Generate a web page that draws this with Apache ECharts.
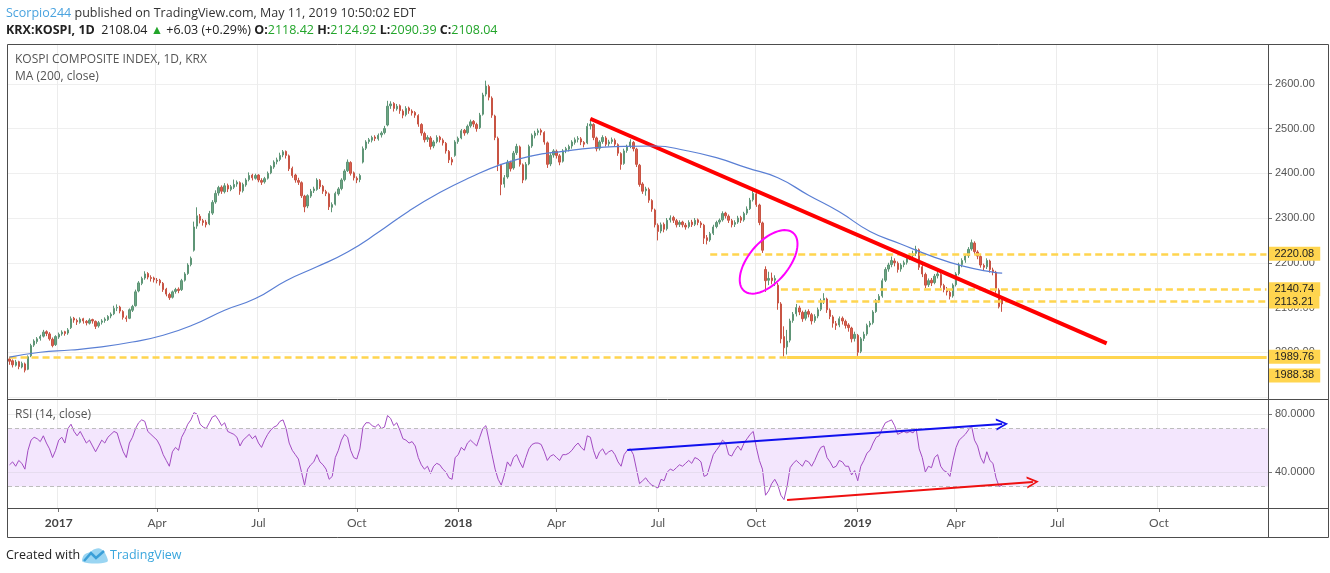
<!DOCTYPE html>
<html><head><meta charset="utf-8">
<script src="https://cdn.jsdelivr.net/npm/echarts@6/dist/echarts.min.js"></script>
<style>html,body{margin:0;padding:0;background:#fff}#c{width:1330px;height:573px}</style>
</head><body><div id="c"></div>
<script>
// ---- data: one candle = 2 trading days, [open, close, low, high] ----
const candles = [
[1985,1980,1972,1990],[1981,1972,1966,1984],[1971,1978,1968,1983],[1979,1968,1962,1981],[1967,1975,1964,1979],
[1974,1960,1955,1977],[1962,1990,1960,1993],[1992,2015,1989,2019],[2016,2025,2012,2029],[2024,2030,2019,2034],
[2031,2035,2026,2039],[2036,2045,2033,2050],[2046,2042,2036,2049],[2041,2030,2026,2045],[2029,2015,2011,2033],
[2017,2035,2014,2038],[2034,2040,2030,2044],[2041,2045,2037,2049],[2046,2042,2037,2048],[2043,2050,2039,2054],
[2055,2075,2052,2080],[2076,2072,2066,2079],[2071,2068,2061,2075],[2067,2074,2064,2078],[2075,2070,2064,2077],
[2069,2066,2060,2072],[2065,2072,2062,2076],[2073,2070,2064,2075],[2069,2058,2052,2071],[2059,2066,2055,2070],
[2067,2070,2062,2074],[2071,2074,2066,2078],[2073,2080,2070,2083],[2081,2085,2076,2089],[2086,2098,2083,2104],
[2099,2100,2092,2107],[2101,2092,2087,2104],[2091,2078,2073,2094],[2077,2075,2068,2082],[2076,2095,2074,2098],
[2094,2102,2090,2106],[2104,2135,2102,2140],[2137,2155,2134,2159],[2154,2165,2150,2169],[2166,2175,2162,2181],
[2176,2168,2163,2179],[2167,2165,2158,2172],[2166,2162,2156,2169],[2161,2160,2154,2166],[2161,2155,2149,2164],
[2154,2140,2135,2157],[2141,2130,2125,2144],[2129,2122,2117,2133],[2123,2135,2120,2138],[2136,2140,2131,2144],
[2141,2138,2132,2145],[2140,2160,2137,2164],[2161,2175,2158,2179],[2176,2195,2173,2199],[2196,2210,2192,2214],
[2228,2280,2225,2292],[2282,2305,2276,2324],[2304,2295,2288,2309],[2294,2290,2283,2298],[2291,2285,2279,2296],
[2287,2310,2284,2316],[2311,2335,2307,2340],[2336,2355,2332,2362],[2356,2368,2350,2372],[2369,2360,2354,2373],
[2359,2372,2355,2378],[2373,2365,2358,2377],[2364,2370,2360,2374],[2369,2375,2365,2386],[2376,2380,2370,2384],
[2379,2360,2352,2382],[2361,2375,2357,2379],[2374,2385,2370,2389],[2386,2395,2382,2402],[2396,2390,2384,2399],
[2389,2395,2386,2399],[2396,2385,2380,2398],[2384,2380,2374,2389],[2381,2388,2377,2392],[2389,2400,2386,2404],
[2401,2415,2398,2418],[2414,2425,2410,2429],[2426,2430,2420,2435],[2431,2440,2427,2446],[2441,2448,2436,2452],
[2449,2440,2433,2451],[2439,2410,2405,2442],[2411,2395,2390,2415],[2396,2385,2379,2399],[2384,2380,2374,2390],
[2379,2350,2345,2382],[2349,2325,2313,2352],[2327,2350,2322,2353],[2349,2360,2345,2365],[2361,2365,2356,2370],
[2364,2385,2361,2389],[2384,2370,2365,2387],[2371,2360,2354,2374],[2359,2355,2349,2363],[2354,2325,2318,2357],
[2324,2330,2313,2335],[2331,2355,2328,2359],[2354,2365,2350,2369],[2366,2385,2362,2389],[2386,2405,2382,2409],
[2406,2425,2403,2431],[2424,2400,2395,2427],[2401,2390,2384,2404],[2389,2385,2378,2393],[2386,2395,2380,2399],
[2425,2455,2422,2460],[2456,2470,2452,2474],[2471,2475,2466,2479],[2474,2480,2469,2484],[2481,2478,2472,2485],
[2477,2485,2473,2489],[2486,2490,2480,2494],[2491,2500,2487,2506],[2508,2550,2505,2562],[2551,2555,2544,2561],
[2556,2545,2538,2559],[2544,2550,2540,2555],[2551,2540,2533,2554],[2539,2530,2523,2543],[2531,2545,2527,2550],
[2546,2540,2533,2549],[2539,2535,2529,2543],[2536,2530,2524,2539],[2529,2510,2504,2532],[2509,2490,2484,2512],
[2489,2475,2469,2493],[2476,2480,2470,2485],[2479,2460,2453,2483],[2461,2470,2456,2474],[2471,2480,2467,2485],
[2481,2475,2469,2484],[2474,2468,2462,2478],[2467,2450,2444,2470],[2449,2430,2423,2452],[2431,2425,2418,2436],
[2440,2470,2437,2474],[2471,2478,2466,2482],[2479,2495,2476,2499],[2496,2490,2484,2499],[2491,2505,2487,2509],
[2506,2515,2502,2520],[2516,2510,2503,2519],[2509,2500,2493,2513],[2502,2530,2499,2535],[2532,2575,2529,2580],
[2577,2595,2572,2607],[2594,2570,2563,2598],[2568,2530,2524,2572],[2528,2480,2474,2531],[2478,2420,2405,2482],
[2418,2375,2351,2421],[2376,2390,2368,2396],[2392,2425,2388,2430],[2424,2410,2404,2428],[2412,2445,2408,2450],
[2446,2460,2441,2466],[2459,2420,2415,2462],[2419,2385,2378,2422],[2387,2420,2384,2425],[2421,2460,2418,2464],
[2461,2485,2457,2489],[2484,2490,2478,2495],[2491,2495,2485,2500],[2496,2492,2485,2500],[2491,2470,2464,2494],
[2468,2420,2412,2471],[2421,2440,2416,2445],[2441,2450,2435,2454],[2449,2440,2433,2453],[2439,2425,2418,2443],
[2427,2450,2424,2454],[2451,2455,2445,2459],[2454,2460,2449,2464],[2461,2470,2455,2474],[2469,2475,2464,2480],
[2476,2478,2469,2483],[2477,2470,2463,2481],[2469,2465,2458,2472],[2468,2505,2465,2512],[2506,2510,2498,2522],
[2509,2480,2474,2512],[2479,2455,2449,2482],[2456,2470,2451,2474],[2471,2480,2466,2485],[2479,2465,2460,2483],
[2466,2470,2460,2475],[2471,2475,2466,2480],[2474,2465,2459,2478],[2464,2445,2439,2467],[2444,2420,2408,2447],
[2422,2450,2419,2455],[2451,2460,2446,2464],[2461,2470,2456,2476],[2469,2455,2449,2472],[2454,2420,2414,2457],
[2418,2375,2370,2421],[2376,2360,2354,2380],[2361,2365,2350,2370],[2364,2340,2334,2368],[2339,2320,2314,2342],
[2318,2285,2279,2321],[2284,2270,2250,2288],[2271,2285,2266,2290],[2286,2275,2268,2290],[2276,2295,2272,2300],
[2296,2300,2290,2306],[2301,2295,2289,2305],[2294,2285,2279,2298],[2286,2290,2280,2295],[2291,2285,2279,2294],
[2284,2280,2274,2289],[2281,2290,2277,2295],[2291,2285,2280,2296],[2286,2295,2282,2300],[2296,2290,2284,2299],
[2289,2285,2278,2293],[2284,2255,2242,2287],[2256,2250,2241,2262],[2251,2265,2247,2269],[2266,2280,2262,2285],
[2281,2290,2277,2294],[2291,2295,2286,2299],[2296,2310,2292,2315],[2311,2305,2299,2314],[2304,2295,2289,2308],
[2294,2285,2279,2298],[2286,2290,2280,2295],[2291,2300,2287,2305],[2301,2295,2289,2305],[2296,2310,2292,2314],
[2311,2320,2307,2326],[2321,2340,2318,2345],[2341,2355,2337,2362],[2354,2330,2325,2357],[2329,2290,2284,2332],
[2289,2228,2222,2292],[2185,2160,2135,2192],[2161,2165,2150,2180],[2166,2160,2152,2178],[2161,2165,2148,2172],
[2150,2110,2095,2155],[2108,2030,2020,2112],[2035,2010,1990,2058],[2012,2025,1995,2050],[2027,2070,2022,2075],
[2071,2085,2066,2090],[2086,2100,2080,2108],[2099,2090,2083,2104],[2089,2075,2068,2093],[2076,2090,2071,2095],
[2091,2085,2078,2096],[2084,2070,2062,2088],[2071,2080,2066,2085],[2081,2095,2076,2100],[2096,2115,2092,2120],
[2116,2120,2108,2132],[2119,2095,2088,2122],[2094,2080,2074,2098],[2079,2065,2055,2083],[2064,2060,2050,2070],
[2061,2075,2056,2080],[2076,2070,2062,2080],[2069,2060,2053,2073],[2061,2055,2046,2065],[2054,2030,2022,2057],
[2031,2040,2024,2046],[2038,2000,1992,2041],[2002,2030,1998,2034],[2031,2040,2025,2046],[2041,2060,2037,2064],
[2061,2065,2056,2070],[2066,2090,2062,2094],[2091,2115,2088,2119],[2116,2125,2110,2130],[2126,2160,2122,2165],
[2161,2185,2157,2190],[2186,2195,2180,2200],[2196,2205,2190,2214],[2204,2200,2192,2210],[2199,2185,2178,2203],
[2186,2195,2180,2199],[2196,2200,2190,2205],[2201,2210,2196,2215],[2211,2215,2206,2221],[2216,2220,2210,2227],
[2221,2230,2215,2238],[2229,2190,2184,2232],[2191,2175,2168,2195],[2174,2150,2143,2178],[2151,2160,2146,2165],
[2161,2155,2148,2166],[2156,2170,2152,2175],[2171,2175,2165,2181],[2174,2150,2144,2177],[2149,2140,2134,2153],
[2141,2135,2127,2146],[2134,2125,2118,2138],[2126,2150,2122,2154],[2151,2175,2147,2179],[2176,2195,2172,2200],
[2196,2205,2190,2210],[2206,2215,2200,2219],[2216,2230,2211,2235],[2231,2245,2227,2252],[2244,2225,2219,2248],
[2224,2215,2208,2228],[2214,2195,2189,2218],[2194,2190,2183,2198],[2191,2205,2186,2210],[2204,2185,2178,2207],
[2184,2180,2172,2189],[2179,2140,2133,2182],[2139,2102,2098,2143],[2118.42,2108.04,2090.39,2124.92]
];
const rsiValues = [
45,47,44,48,46,42,55,62,64,63, 61,65,60,56,50,55,62,64,60,70, 73,68,65,68,64,60,62,58,54,58,
62,60,64,66,68,67,60,54,50,60, 64,70,74,76,75,68,66,64,62,58, 52,48,44,54,57,55,64,68,73,76,
81,80,73,71,70,74,78,79,76,72, 74,68,67,66,64,58,62,64,66,63, 65,60,57,62,66,69,71,72,75,76,
70,60,55,52,49,40,31,42,45,47, 52,47,45,42,35,37,50,55,62,66, 64,55,50,49,56,71,74,74,72,71,
73,70,71,79,77,72,74,69,63,62, 60,61,58,50,45,42,44,39,44,46, 45,42,40,36,35,50,52,57,55,60,
62,60,58,64,70,72,62,52,42,35, 31,38,47,44,50,52,47,43,50,56, 59,60,60,59,54,48,51,52,50,48,
52,52,53,55,58,60,57,55,65,64, 55,49,54,56,52,54,55,52,47,44, 52,55,56,52,42,32,34,36,33,31,
30,29,35,34,40,42,41,43,45,44, 46,48,46,50,49,47,37,38,45,52, 55,58,62,60,52,51,55,58,55,60,
63,66,68,57,48,42,24,27,32,35, 31,24,21,30,43,46,48,46,44,48, 47,44,48,53,57,58,50,47,43,44,
48,47,44,44,38,41,34,44,48,53, 55,60,64,65,70,74,75,76,72,66, 67,68,67,68,67,70,56,50,40,44,
43,50,52,44,41,40,37,48,57,62, 64,66,69,72,62,58,50,46,54,48, 46,36,30,31
];
// MA(200) read at these candle indices
const maIndex  = [0,10,20,30,40,50,60,70,80,90,100,110,120,130,140,150,160,170,180,190,200,210,220,230,240,250,260,270,280,290,300,310,320,323];
const maValues = [1989,2000,2005,2012,2023,2038,2062,2094,2120,2160,2191,2224,2268,2316,2357,2391,2420,2439,2449,2457,2460,2461,2451,2435,2412,2390,2351,2314,2270,2242,2215,2193,2179,2177];
// horizontal levels (value, first candle index)
const levelValues = [2220.08, 2140.74, 2113.21, 1989.76, 1988.38];
const levelStart  = [228, 251, 256, 253, 0];
// drawn trend lines [candleIndex, value]
const priceTrend = [[189, 2522], [357, 2020]];
const rsiUpper   = [[201, 55.2], [323, 73.1]];
const rsiLower   = [[253, 20.7], [333, 33.1]];
const circleAt   = [247, 2202];
const priceTicks = [1900, 2600, 100];
const rsiTicks   = [40, 80];
const header = {
  author: 'Scorpio244', published: ' published on TradingView.com, May 11, 2019 10:50:02 EDT',
  sym: 'KRX:KOSPI, 1D', last: '2108.04', chg: '+6.03 (+0.29%)',
  o: '2118.42', h: '2124.92', l: '2090.39', c: '2108.04'
};

// ---- categories: pairs of business days ----
const N = 410;
const bdays = [];
let t = Date.UTC(2016, 10, 17);
while (bdays.length < 2 * N) { const dt = new Date(t); const wd = dt.getUTCDay(); if (wd > 0 && wd < 6) bdays.push(dt); t += 86400000; }
const categories = [];
for (let k = 0; k < N; k++) categories.push(bdays[2 * k].toISOString().slice(0, 10));
const MONTHS = ['Jan','Feb','Mar','Apr','May','Jun','Jul','Aug','Sep','Oct','Nov','Dec'];
const qLabel = {};
let pm = -1;
bdays.forEach((dt, j) => {
  const m = dt.getUTCMonth();
  if (m !== pm) {
    if (m % 3 === 0 && dt.getUTCFullYear() < 2020) qLabel[Math.floor(j / 2)] = m === 0 ? String(dt.getUTCFullYear()) : MONTHS[m];
    pm = m;
  }
});
const qInterval = (idx) => qLabel[idx] !== undefined;

const chart = echarts.init(document.getElementById('c'));
const F = 'Open Sans';
const AF = 'Lato';
const YEL = '#ffd54f';
const last = N - 1;
const CHEVRON = 'path://M0,10 L6,0 L12,10 L10,10 L6,3 L2,10 Z';

const levelLines = levelValues.map((v, k) => {
  const solid = (k === 3);
  return [
    { coord: [levelStart[k], v], lineStyle: { color: YEL, width: solid ? 3 : 2.5, type: solid ? 'solid' : [7, 4] },
      label: { show: true, position: 'end', distance: 2, formatter: v.toFixed(2), backgroundColor: YEL, color: '#222',
               fontFamily: 'Liberation Sans', fontSize: 11, padding: [2, 6, 1, 6], offset: k === 4 ? [0, 18] : [0, 0] } },
    { coord: [last, v] }
  ];
});

const option = {
  animation: false,
  grid: [
    { left: 8, right: 62, top: 44, height: 353 },
    { left: 8, right: 62, top: 400, height: 108 }
  ],
  xAxis: [
    { type: 'category', gridIndex: 0, data: categories, boundaryGap: true,
      axisLine: { show: false }, axisTick: { show: false }, axisLabel: { show: false },
      splitLine: { show: true, interval: qInterval, lineStyle: { color: '#ececec' } } },
    { type: 'category', gridIndex: 1, data: categories, boundaryGap: true,
      axisLine: { show: true, lineStyle: { color: '#555' } },
      axisTick: { show: true, alignWithLabel: true, interval: qInterval, length: 4, lineStyle: { color: '#777' } },
      splitLine: { show: true, interval: qInterval, lineStyle: { color: '#ececec' } },
      axisLabel: { interval: qInterval, margin: 9, color: '#555', fontFamily: AF, fontSize: 12,
        formatter: (val, idx) => { const s = qLabel[idx] || ''; return /^\d/.test(s) ? '{y|' + s + '}' : s; },
        rich: { y: { fontWeight: 'bold', color: '#444', fontFamily: AF, fontSize: 12 } } } }
  ],
  yAxis: [
    { type: 'value', gridIndex: 0, position: 'right', min: priceTicks[0], max: 2689, interval: priceTicks[2],
      axisLine: { show: false }, axisTick: { show: true, length: 4, lineStyle: { color: '#777' } },
      axisLabel: { formatter: v => v.toFixed(2), color: '#555', fontFamily: 'Liberation Sans', fontSize: 11, margin: 7,
                   showMinLabel: false, showMaxLabel: false },
      splitLine: { show: true, lineStyle: { color: '#efefef' } } },
    { type: 'value', gridIndex: 1, position: 'right', min: 15.2, max: 89.7,
      axisLine: { show: false }, axisTick: { show: true, length: 4, customValues: rsiTicks, lineStyle: { color: '#777' } },
      axisLabel: { customValues: rsiTicks, formatter: v => v.toFixed(4), color: '#555', fontFamily: 'Liberation Sans', fontSize: 11, margin: 7 },
      splitLine: { show: false } }
  ],
  series: [
    { type: 'candlestick', xAxisIndex: 0, yAxisIndex: 0, data: candles, barWidth: '60%', z: 3,
      itemStyle: { color: '#6ca584', color0: '#d9604f', borderColor: '#5e9576', borderColor0: '#c85444', borderWidth: 1 },
      markLine: { silent: true, symbol: ['none', 'none'], animation: false, z: 4,
        data: levelLines.concat([[
          { coord: priceTrend[0], lineStyle: { color: '#ff0000', width: 4, type: 'solid' }, label: { show: false } },
          { coord: priceTrend[1] }
        ]]) } },
    { type: 'line', xAxisIndex: 0, yAxisIndex: 0, data: maIndex.map((i, k) => [i, maValues[k]]), smooth: true,
      symbol: 'none', z: 4, lineStyle: { color: '#5a7fd4', width: 1.2 } },
    { type: 'line', xAxisIndex: 1, yAxisIndex: 1, data: [], z: 1,
      markArea: { silent: true, itemStyle: { color: '#f3e6fd' }, data: [[{ yAxis: 30 }, { yAxis: 70 }]] },
      markLine: { silent: true, symbol: ['none', 'none'], label: { show: false },
        data: [
          { yAxis: 80, lineStyle: { color: '#ececec', type: 'solid', width: 1 } },
          { yAxis: 40, lineStyle: { color: '#e6dcef', type: 'solid', width: 1 } },
          { yAxis: 70, lineStyle: { color: '#bdbdbd', type: [4, 3], width: 1 } },
          { yAxis: 30, lineStyle: { color: '#bdbdbd', type: [4, 3], width: 1 } }
        ] } },
    { type: 'line', xAxisIndex: 1, yAxisIndex: 1, data: rsiValues, symbol: 'none', z: 3,
      lineStyle: { color: '#a24bc2', width: 1 },
      markLine: { silent: true, label: { show: false }, z: 5,
        data: [
          [ { coord: rsiUpper[0], symbol: 'none', lineStyle: { color: '#1010ee', width: 2, type: 'solid' } },
            { coord: rsiUpper[1], symbol: CHEVRON, symbolSize: [12, 12] } ],
          [ { coord: rsiLower[0], symbol: 'none', lineStyle: { color: '#ee1010', width: 2, type: 'solid' } },
            { coord: rsiLower[1], symbol: CHEVRON, symbolSize: [12, 12] } ]
        ] } }
  ],
  graphic: [
    { id: 'frame', type: 'rect', silent: true, z: 50, shape: { x: 7.5, y: 44.5, width: 1321, height: 493 },
      style: { fill: 'none', stroke: '#4d4d4d', lineWidth: 1 } },
    { id: 'vdiv', type: 'line', silent: true, z: 50, shape: { x1: 1268.5, y1: 44, x2: 1268.5, y2: 537 }, style: { stroke: '#4d4d4d', lineWidth: 1 } },
    { id: 'hdiv1', type: 'line', silent: true, z: 50, shape: { x1: 7, y1: 399.5, x2: 1328, y2: 399.5 }, style: { stroke: '#4d4d4d', lineWidth: 1 } },
    { id: 'hdiv2', type: 'line', silent: true, z: 50, shape: { x1: 7, y1: 508.5, x2: 1328, y2: 508.5 }, style: { stroke: '#4d4d4d', lineWidth: 1 } },
    { id: 'h1', type: 'text', silent: true, z: 50, style: { x: 6, y: 13, verticalAlign: 'middle',
      text: '{a|' + header.author + '}' + header.published, font: '12.5px "' + F + '"', fill: '#333',
      rich: { a: { fill: '#4aa3df', font: '12.5px "' + F + '"' } } } },
    { id: 'h2', type: 'text', silent: true, z: 50, style: { x: 6, y: 30, verticalAlign: 'middle',
      text: '{b|' + header.sym + '}  ' + header.last + ' {g|▲} ' + header.chg + ' {b|O:}{v|' + header.o + '} {b|H:}{v|' + header.h + '} {b|L:}{v|' + header.l + '} {b|C:}{v|' + header.c + '}',
      font: '12.5px "' + F + '"', fill: '#222',
      rich: { b: { font: 'bold 12.5px "' + F + '"', fill: '#222' }, g: { fill: '#22a52a', font: '12.5px "' + F + '"' }, v: { fill: '#22a52a', font: '12.5px "' + F + '"' } } } },
    { id: 't1', type: 'text', silent: true, z: 50, style: { x: 15, y: 60, verticalAlign: 'middle', text: 'KOSPI COMPOSITE INDEX, 1D, KRX', font: '12px "' + F + '"', fill: '#555' } },
    { id: 't2', type: 'text', silent: true, z: 50, style: { x: 15, y: 77, verticalAlign: 'middle', text: 'MA (200, close)', font: '12px "' + F + '"', fill: '#555' } },
    { id: 't3', type: 'text', silent: true, z: 50, style: { x: 15, y: 415, verticalAlign: 'middle', text: 'RSI (14, close)', font: '12px "' + F + '"', fill: '#555' } },
    { id: 'c1', type: 'text', silent: true, z: 50, style: { x: 6, y: 555, verticalAlign: 'middle', text: 'Created with', font: '12.5px "' + F + '"', fill: '#222' } },
    { id: 'logo1', type: 'polygon', silent: true, z: 50, shape: { smooth: 0.4, points: [[83, 562], [84, 555], [90, 552], [95, 549], [101, 549], [106, 555], [107, 562]] }, style: { fill: '#9ad5f2' } },
    { id: 'logo2', type: 'polyline', silent: true, z: 51, shape: { points: [[84, 561], [91, 553], [96, 558], [104, 551]] }, style: { stroke: '#3a9fd8', lineWidth: 2.5, fill: 'none' } },
    { id: 'c2', type: 'text', silent: true, z: 50, style: { x: 110, y: 555, verticalAlign: 'middle', text: 'TradingView', font: '12.5px "' + F + '"', fill: '#3aa6dd' } }
  ]
};
chart.setOption(option);
// magenta ellipse annotation anchored at a data point
const cp = chart.convertToPixel({ xAxisIndex: 0, yAxisIndex: 0 }, circleAt);
const ellPts = [];
for (let a = 0; a < 72; a++) {
  const th = a / 72 * 2 * Math.PI, rx = 38, ry = 20, rot = 0.87;
  const ex = rx * Math.cos(th), ey = ry * Math.sin(th);
  ellPts.push([cp[0] + ex * Math.cos(rot) + ey * Math.sin(rot), cp[1] - ex * Math.sin(rot) + ey * Math.cos(rot)]);
}
chart.setOption({ graphic: [{ id: 'ellipse', type: 'polygon', silent: true, z: 40,
  shape: { points: ellPts }, style: { fill: 'none', stroke: '#ff00ff', lineWidth: 2 } }] });
</script>
</body></html>
